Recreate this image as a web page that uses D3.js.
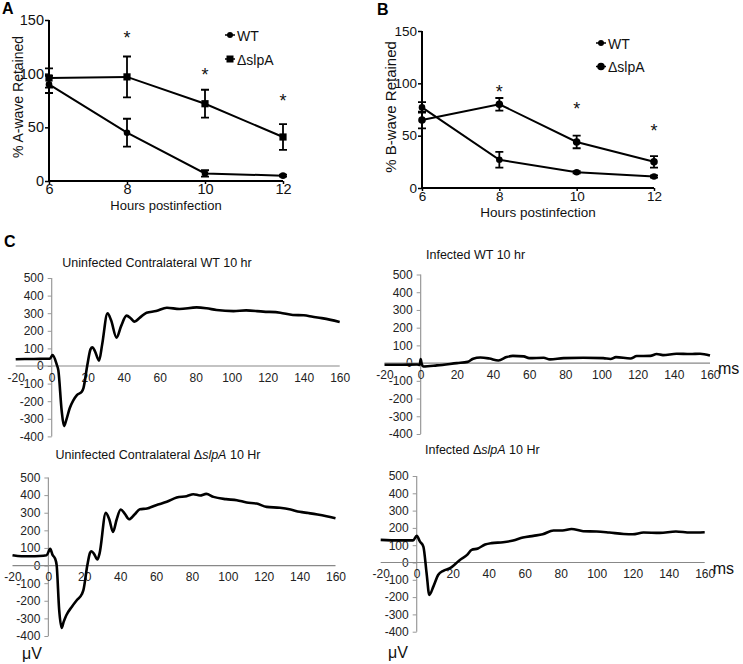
<!DOCTYPE html>
<html><head><meta charset="utf-8">
<script src="https://cdn.jsdelivr.net/npm/d3@7"></script>
<style>
body{margin:0;background:#fff;}
svg{font-family:"Liberation Sans",Arial,sans-serif;}
</style></head>
<body><svg id="c" width="743" height="664"></svg>
<script>
// ---------- Panel A / B data ----------
const hours = [6, 8, 10, 12];
const pctTicks = [0, 50, 100, 150];
const seriesNames = ["WT", "\u0394slpA"];

const aWT = [90, 45, 7, 5];
const aWTerr = [8, 13, 3, 1];
const aSlpA = [96, 97, 72, 41];
const aSlpAerr = [9, 19, 13, 12];
const aStars = [null, 135, 101, 76];

const bWT = [77, 27, 15, 11];
const bWTerr = [5, 7.5, 1, 1];
const bSlpA = [65, 80, 44, 25];
const bSlpAerr = [8, 6, 6, 5.5];
const bStars = [null, 94, 77, 56];

// ---------- Panel C ERG traces [ms, µV] ----------
const msTicks = [-20, 0, 20, 40, 60, 80, 100, 120, 140, 160];
const uvTicks = [-400, -300, -200, -100, 0, 100, 200, 300, 400, 500];

const ergUninfWT = [[-20,38],[-15,40],[-10,40],[-5,41],[-1,42],[0.5,62],[2.8,8],[3.7,-25],[5.5,-250],[6.8,-341],[8,-310],[10,-240],[12,-195],[14,-165],[16.7,-146],[17.6,-127],[19.8,6],[21.6,96],[22.6,106],[24,85],[26.3,30],[28,120],[31,299],[33,260],[36,161],[38.5,225],[41.6,286],[44,270],[46,252],[49,275],[52.7,303],[58,312],[64,331],[71,324],[80.5,333],[86,328],[91.6,318],[101,312],[108,316],[117.5,309],[127,303],[134,290],[140,288],[145,280],[150,272],[155,262],[160,250]];
const ergInfWT = [[-20,-9],[-10,-9],[-2,-8],[-0.5,-10],[0,23],[0.6,-5],[1.5,-19],[9,-13],[20,0],[26,7],[29,25],[33,32],[38,26],[43,15],[47.5,34],[51,41],[57,38],[60,28],[68,30],[71.5,21],[79,28],[90,30],[101,28],[105,23],[108,34],[116,26],[119.5,40],[127,41],[130.5,51],[134,45],[141.5,53],[149,51],[154.5,53],[160,43]];
const ergUninfSlpA = [[-20,59],[-15,53],[-10,53],[-5,54],[-1,58],[1,95],[2.4,59],[3.7,40],[4.6,2],[6,-250],[7.4,-354],[8.5,-320],[10,-282],[13,-235],[15.8,-197],[18.6,-163],[19.5,-140],[21.7,2],[23.2,72],[24,81],[25.5,65],[27.3,34],[28.5,68],[32,299],[34,260],[36,191],[38,260],[40.3,318],[42.5,295],[45,263],[48,290],[51,320],[55,324],[60,343],[66,362],[71.5,386],[77,394],[80.8,405],[84.5,398],[88,407],[92,390],[99,377],[105,371],[110.5,358],[116,352],[121.6,333],[129,328],[135,318],[140,305],[145,298],[150,290],[155,280],[160,268]];
const ergInfSlpA = [[-20,131],[-10,128],[-2,128],[0,154],[1.8,121],[3.7,92],[5.5,-62],[7,-187],[9.3,-138],[12,-71],[14.8,-48],[18.5,-33],[21,-13],[24,15],[28,44],[30.5,73],[34,81],[38,104],[41.6,112],[48,117],[53.6,127],[59,144],[64.8,154],[70,163],[76,185],[81,185],[86,194],[92.5,181],[100,179],[107,173],[115,165],[120,163],[126,173],[135,171],[144,179],[152,173],[160,175]];

const svg = d3.select("#c");
const font = '"Liberation Sans",Arial,sans-serif';
const fmt = d => String(d);

// ---------- line chart panels ----------
function linePanel(o){
  const g = svg.append("g");
  const x = d3.scaleLinear().domain([6,12]).range(o.xr);
  const y = d3.scaleLinear().domain([0,150]).range(o.yr);
  const ya = g.append("g").attr("transform",`translate(${o.xr[0]},0)`)
    .call(d3.axisLeft(y).tickValues(pctTicks).tickFormat(fmt).tickSize(4).tickPadding(1));
  const xa = g.append("g").attr("transform",`translate(0,${o.yr[0]})`)
    .call(d3.axisBottom(x).tickValues(hours).tickFormat(fmt).tickSize(3).tickPadding(0));
  [ya,xa].forEach(a=>{
    a.select(".domain").attr("stroke","#000").attr("stroke-width",2);
    a.selectAll(".tick line").attr("stroke","#000").attr("stroke-width",1.5);
    a.selectAll("text").attr("font-family",font).attr("font-size",o.tickSize).attr("fill","#111");
  });
  ya.select(".domain").attr("d",`M0,${o.yr[1]}V${o.yr[0]}`);
  xa.select(".domain").attr("d",`M${o.xr[0]},0H${o.xr[1]}`);
  g.append("text").attr("x",(o.xr[0]+o.xr[1])/2).attr("y",o.xTitleY).attr("text-anchor","middle")
    .attr("font-size",o.xTitleSize).attr("fill","#111").text("Hours postinfection");
  g.append("text").attr("transform",`translate(${o.yTitleX},${o.yTitleY}) rotate(-90)`).attr("text-anchor","middle")
    .attr("font-size",o.yTitleSize).attr("fill","#111").text(o.yTitle);
  const ser = [{v:o.wt,e:o.wtErr,m:"circle",r:3.3},{v:o.sl,e:o.slErr,m:o.slMarker,r:o.slR}];
  const line = d3.line().x((d,i)=>x(hours[i])).y(d=>y(d));
  ser.forEach(s=>{
    g.append("path").attr("d",line(s.v)).attr("fill","none").attr("stroke","#000").attr("stroke-width",2);
    s.v.forEach((v,i)=>{
      const cx=x(hours[i]), t=y(v+s.e[i]), b=y(v-s.e[i]);
      g.append("path").attr("d",`M${cx},${t}V${b}M${cx-4},${t}H${cx+4}M${cx-4},${b}H${cx+4}`)
        .attr("stroke","#000").attr("stroke-width",1.8).attr("fill","none");
      if(s.m==="circle") g.append("circle").attr("cx",cx).attr("cy",y(v)).attr("r",s.r).attr("fill","#000");
      else g.append("rect").attr("x",cx-s.r).attr("y",y(v)-s.r).attr("width",2*s.r).attr("height",2*s.r).attr("fill","#000");
    });
  });
  o.stars.forEach((s,i)=>{ if(s==null) return;
    g.append("text").attr("x",x(hours[i])).attr("y",y(s)+8).attr("text-anchor","middle")
      .attr("font-size",18).attr("fill","#111").text("*");
  });
  seriesNames.forEach((n,i)=>{
    const ly=o.leg[1]+i*o.legGap, lx=o.leg[0];
    g.append("line").attr("x1",lx-5).attr("x2",lx+5).attr("y1",ly).attr("y2",ly).attr("stroke","#000").attr("stroke-width",1.5);
    if(i===0||o.slMarker==="circle") g.append("circle").attr("cx",lx).attr("cy",ly).attr("r",i===0?3:3.8).attr("fill","#000");
    else g.append("rect").attr("x",lx-3.5).attr("y",ly-3.5).attr("width",7).attr("height",7).attr("fill","#000");
    g.append("text").attr("x",lx+7).attr("y",ly+5.5).attr("font-size",o.legSize).attr("fill","#111").text(n);
  });
  g.append("text").attr("x",o.letter[0]).attr("y",o.letter[1]).attr("font-size",16).attr("font-weight","bold").text(o.letterText);
}

linePanel({xr:[49,283], yr:[181,20], wt:aWT, wtErr:aWTerr, sl:aSlpA, slErr:aSlpAerr, slMarker:"rect", slR:3.6,
  stars:aStars, tickSize:14.5, xTitleY:210, xTitleSize:13, yTitle:"% A-wave Retained", yTitleX:23, yTitleY:97, yTitleSize:14,
  leg:[230,35], legGap:24, legSize:14, letter:[2,14], letterText:"A"});
linePanel({xr:[422,654], yr:[188,31], wt:bWT, wtErr:bWTerr, sl:bSlpA, slErr:bSlpAerr, slMarker:"circle", slR:3.8,
  stars:bStars, tickSize:13.5, xTitleY:217, xTitleSize:13.5, yTitle:"% B-wave Retained", yTitleX:396, yTitleY:107, yTitleSize:15,
  leg:[601,43], legGap:23.5, legSize:14, letter:[377,15], letterText:"B"});

// ---------- ERG panels ----------
function ergPanel(o){
  const g = svg.append("g");
  const x = d3.scaleLinear().domain([-20,160]).range(o.xr);
  const y = d3.scaleLinear().domain([-400,500]).range(o.yr);
  const x0 = x(0), y0 = y(0);
  const ya = g.append("g").attr("transform",`translate(${x0},0)`)
    .call(d3.axisLeft(y).tickValues(uvTicks).tickFormat(fmt).tickSize(4).tickPadding(4));
  ya.select(".domain").attr("d",`M0,${o.yr[1]}V${o.yr[0]}`).attr("stroke","#999").attr("stroke-width",1.2);
  ya.selectAll(".tick line").attr("stroke","#999");
  ya.selectAll("text").attr("font-family",font).attr("font-size",12).attr("fill","#222");
  const xa = g.append("g").attr("transform",`translate(0,${y0})`)
    .call(d3.axisBottom(x).tickValues(msTicks).tickFormat(fmt).tickSize(0).tickPadding(7));
  xa.select(".domain").attr("d",`M${o.xr[0]},0H${o.xr[1]}`).attr("stroke","#888").attr("stroke-width",1.2);
  xa.selectAll("text").attr("font-family",font).attr("font-size",12).attr("fill","#222");
  g.append("path").attr("d",d3.line().curve(d3.curveMonotoneX).x(d=>x(d[0])).y(d=>y(d[1]))(o.data))
    .attr("fill","none").attr("stroke","#000").attr("stroke-width",2.6).attr("stroke-linejoin","round");
  const t = g.append("text").attr("x",o.title[0]).attr("y",o.title[1]).attr("font-size",12.5).attr("fill","#111")
    .attr("text-anchor",o.anchor||"start");
  o.titleParts.forEach(p=>{ const s=t.append("tspan").text(p[0]); if(p[1]) s.attr("font-style","italic"); });
  if(o.ms) g.append("text").attr("x",x(160)+8).attr("y",y0+11).attr("font-size",16).attr("fill","#111").text("ms");
  if(o.uv) g.append("text").attr("x",o.uv[0]).attr("y",o.uv[1]).attr("font-size",16).attr("fill","#111").attr("text-anchor","middle").text("\u03bcV");
}

ergPanel({xr:[15.7,339.7], yr:[436.4,278], data:ergUninfWT, title:[157,267], anchor:"middle",
  titleParts:[["Uninfected Contralateral WT 10 hr"]]});
ergPanel({xr:[384.5,710], yr:[434,274.5], data:ergInfWT, title:[426,259],
  titleParts:[["Infected WT 10 hr"]], ms:true});
ergPanel({xr:[12.5,335.5], yr:[636,477.5], data:ergUninfSlpA, title:[158,459], anchor:"middle",
  titleParts:[["Uninfected Contralateral \u0394"],["slpA",true],[" 10 Hr"]], uv:[32,659]});
ergPanel({xr:[380.7,704.7], yr:[631.7,476], data:ergInfSlpA, title:[425,454],
  titleParts:[["Infected \u0394"],["slpA",true],[" 10 Hr"]], ms:true, uv:[398,658]});

svg.append("text").attr("x",4).attr("y",247).attr("font-size",16).attr("font-weight","bold").text("C");
</script></body></html>
